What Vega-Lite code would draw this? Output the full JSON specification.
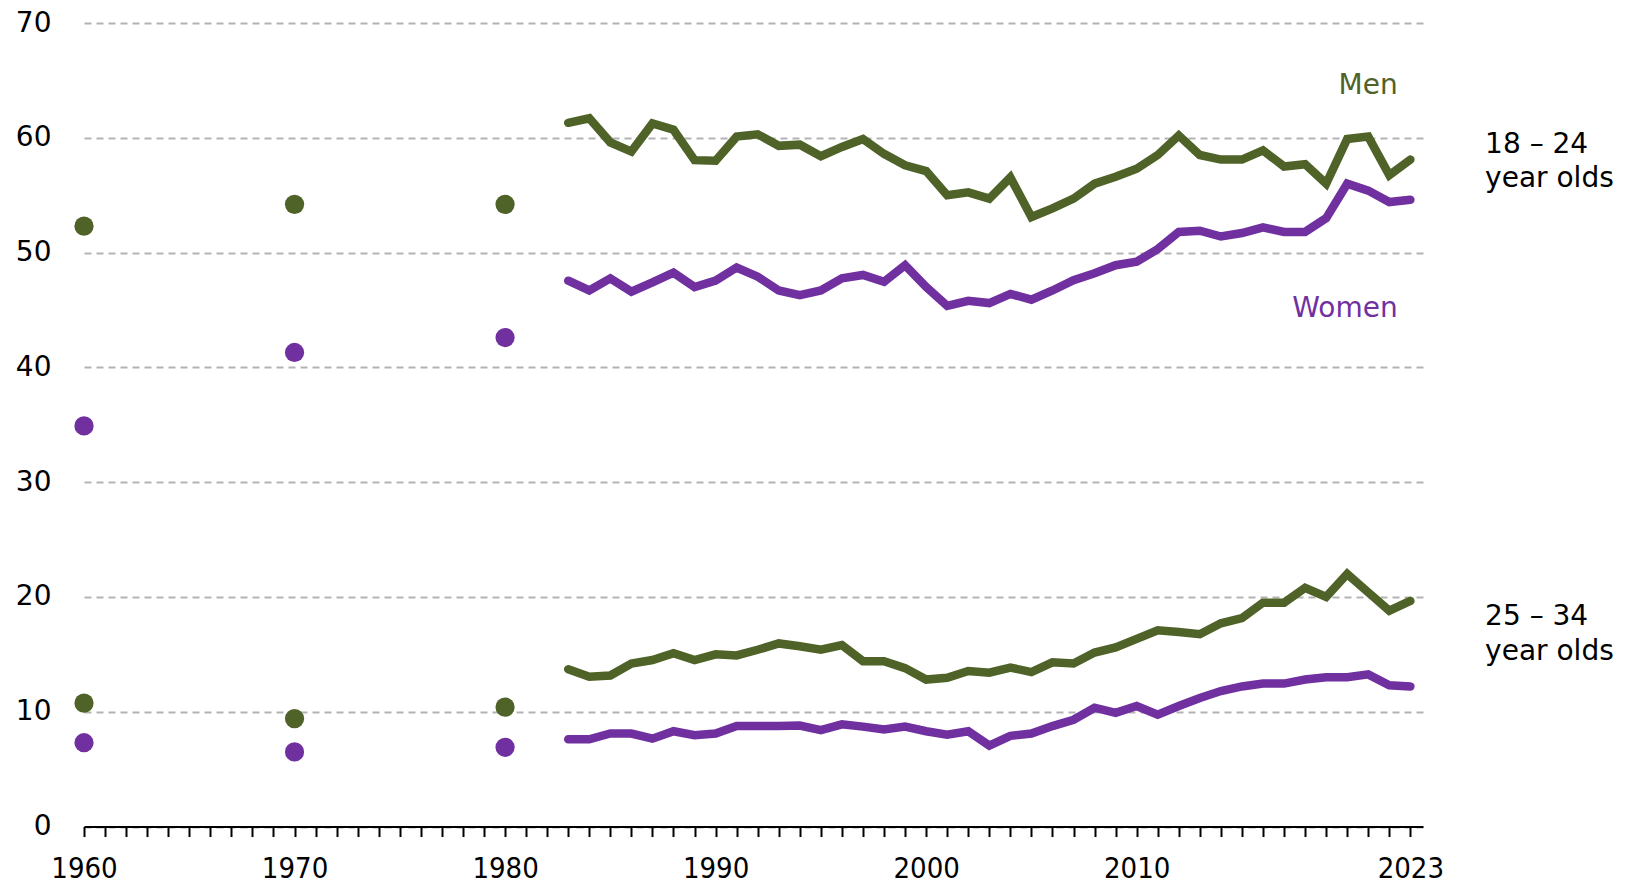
{
  "$schema": "https://vega.github.io/schema/vega-lite/v6.json",
  "width": 1339,
  "height": 803.5,
  "autosize": {"type": "none"},
  "padding": {"left": 84, "top": 23, "right": 203, "bottom": 59.5},
  "background": "white",
  "config": {"view": {"stroke": null}},
  "datasets": {
    "rates": [
      {"year": 1960, "Men 18-24": 52.3, "Women 18-24": 34.9, "Men 25-34": 10.75, "Women 25-34": 7.3},
      {"year": 1970, "Men 18-24": 54.2, "Women 18-24": 41.3, "Men 25-34": 9.4, "Women 25-34": 6.5},
      {"year": 1980, "Men 18-24": 54.2, "Women 18-24": 42.6, "Men 25-34": 10.4, "Women 25-34": 6.9},
      {"year": 1983, "Men 18-24": 61.3, "Women 18-24": 47.55, "Men 25-34": 13.7, "Women 25-34": 7.6},
      {"year": 1984, "Men 18-24": 61.7, "Women 18-24": 46.7, "Men 25-34": 13.05, "Women 25-34": 7.6},
      {"year": 1985, "Men 18-24": 59.6, "Women 18-24": 47.75, "Men 25-34": 13.15, "Women 25-34": 8.1},
      {"year": 1986, "Men 18-24": 58.8, "Women 18-24": 46.6, "Men 25-34": 14.2, "Women 25-34": 8.1},
      {"year": 1987, "Men 18-24": 61.25, "Women 18-24": 47.4, "Men 25-34": 14.5, "Women 25-34": 7.65},
      {"year": 1988, "Men 18-24": 60.7, "Women 18-24": 48.25, "Men 25-34": 15.1, "Women 25-34": 8.3},
      {"year": 1989, "Men 18-24": 58.05, "Women 18-24": 47.0, "Men 25-34": 14.5, "Women 25-34": 7.95},
      {"year": 1990, "Men 18-24": 58.0, "Women 18-24": 47.55, "Men 25-34": 15.0, "Women 25-34": 8.1},
      {"year": 1991, "Men 18-24": 60.1, "Women 18-24": 48.7, "Men 25-34": 14.9, "Women 25-34": 8.75},
      {"year": 1992, "Men 18-24": 60.3, "Women 18-24": 47.9, "Men 25-34": 15.4, "Women 25-34": 8.75},
      {"year": 1993, "Men 18-24": 59.3, "Women 18-24": 46.7, "Men 25-34": 15.95, "Women 25-34": 8.75},
      {"year": 1994, "Men 18-24": 59.4, "Women 18-24": 46.3, "Men 25-34": 15.7, "Women 25-34": 8.8},
      {"year": 1995, "Men 18-24": 58.4, "Women 18-24": 46.7, "Men 25-34": 15.4, "Women 25-34": 8.4},
      {"year": 1996, "Men 18-24": 59.2, "Women 18-24": 47.75, "Men 25-34": 15.8, "Women 25-34": 8.9},
      {"year": 1997, "Men 18-24": 59.9, "Women 18-24": 48.05, "Men 25-34": 14.4, "Women 25-34": 8.7},
      {"year": 1998, "Men 18-24": 58.6, "Women 18-24": 47.45, "Men 25-34": 14.4, "Women 25-34": 8.45},
      {"year": 1999, "Men 18-24": 57.6, "Women 18-24": 48.9, "Men 25-34": 13.8, "Women 25-34": 8.7},
      {"year": 2000, "Men 18-24": 57.1, "Women 18-24": 47.0, "Men 25-34": 12.8, "Women 25-34": 8.3},
      {"year": 2001, "Men 18-24": 55.0, "Women 18-24": 45.35, "Men 25-34": 12.95, "Women 25-34": 8.0},
      {"year": 2002, "Men 18-24": 55.25, "Women 18-24": 45.8, "Men 25-34": 13.55, "Women 25-34": 8.3},
      {"year": 2003, "Men 18-24": 54.7, "Women 18-24": 45.6, "Men 25-34": 13.4, "Women 25-34": 7.05},
      {"year": 2004, "Men 18-24": 56.55, "Women 18-24": 46.4, "Men 25-34": 13.85, "Women 25-34": 7.9},
      {"year": 2005, "Men 18-24": 53.1, "Women 18-24": 45.9, "Men 25-34": 13.45, "Women 25-34": 8.1},
      {"year": 2006, "Men 18-24": 53.85, "Women 18-24": 46.7, "Men 25-34": 14.3, "Women 25-34": 8.75},
      {"year": 2007, "Men 18-24": 54.7, "Women 18-24": 47.6, "Men 25-34": 14.2, "Women 25-34": 9.3},
      {"year": 2008, "Men 18-24": 56.0, "Women 18-24": 48.2, "Men 25-34": 15.15, "Women 25-34": 10.35},
      {"year": 2009, "Men 18-24": 56.6, "Women 18-24": 48.9, "Men 25-34": 15.6, "Women 25-34": 9.9},
      {"year": 2010, "Men 18-24": 57.3, "Women 18-24": 49.2, "Men 25-34": 16.35, "Women 25-34": 10.5},
      {"year": 2011, "Men 18-24": 58.5, "Women 18-24": 50.3, "Men 25-34": 17.1, "Women 25-34": 9.75},
      {"year": 2012, "Men 18-24": 60.2, "Women 18-24": 51.8, "Men 25-34": 16.95, "Women 25-34": 10.5},
      {"year": 2013, "Men 18-24": 58.5, "Women 18-24": 51.9, "Men 25-34": 16.75, "Women 25-34": 11.2},
      {"year": 2014, "Men 18-24": 58.1, "Women 18-24": 51.4, "Men 25-34": 17.7, "Women 25-34": 11.8},
      {"year": 2015, "Men 18-24": 58.1, "Women 18-24": 51.7, "Men 25-34": 18.15, "Women 25-34": 12.2},
      {"year": 2016, "Men 18-24": 58.9, "Women 18-24": 52.2, "Men 25-34": 19.5, "Women 25-34": 12.45},
      {"year": 2017, "Men 18-24": 57.5, "Women 18-24": 51.8, "Men 25-34": 19.5, "Women 25-34": 12.45},
      {"year": 2018, "Men 18-24": 57.7, "Women 18-24": 51.8, "Men 25-34": 20.8, "Women 25-34": 12.8},
      {"year": 2019, "Men 18-24": 56.0, "Women 18-24": 53.0, "Men 25-34": 20.0, "Women 25-34": 13.0},
      {"year": 2020, "Men 18-24": 59.9, "Women 18-24": 56.0, "Men 25-34": 22.0, "Women 25-34": 13.0},
      {"year": 2021, "Men 18-24": 60.1, "Women 18-24": 55.4, "Men 25-34": 20.4, "Women 25-34": 13.25},
      {"year": 2022, "Men 18-24": 56.75, "Women 18-24": 54.4, "Men 25-34": 18.8, "Women 25-34": 12.3},
      {"year": 2023, "Men 18-24": 58.1, "Women 18-24": 54.6, "Men 25-34": 19.65, "Women 25-34": 12.2}
    ],
    "sexLabels": [
      {"year": 2022.4, "value": 64.5, "label": "Men"},
      {"year": 2022.4, "value": 45.1, "label": "Women"}
    ],
    "ageLabels": [
      {"year": 2026.55, "value": 59.4, "label": "18 – 24"},
      {"year": 2026.55, "value": 56.4, "label": "year olds"},
      {"year": 2026.55, "value": 18.25, "label": "25 – 34"},
      {"year": 2026.55, "value": 15.2, "label": "year olds"}
    ]
  },
  "layer": [
    {
      "data": {"name": "rates"},
      "transform": [
        {"fold": ["Men 18-24", "Women 18-24", "Men 25-34", "Women 25-34"], "as": ["series", "value"]},
        {"filter": "datum.year >= 1983"}
      ],
      "mark": {"type": "line", "strokeWidth": 8.5, "strokeCap": "round", "strokeJoin": "miter"},
      "encoding": {
        "x": {
          "field": "year", "type": "quantitative",
          "scale": {"domain": [1960, 2023.6], "nice": false, "zero": false},
          "axis": {
            "title": null,
            "grid": false,
            "tickCount": 200,
            "values": [1960,1961,1962,1963,1964,1965,1966,1967,1968,1969,1970,1971,1972,1973,1974,1975,1976,1977,1978,1979,1980,1981,1982,1983,1984,1985,1986,1987,1988,1989,1990,1991,1992,1993,1994,1995,1996,1997,1998,1999,2000,2001,2002,2003,2004,2005,2006,2007,2008,2009,2010,2011,2012,2013,2014,2015,2016,2017,2018,2019,2020,2021,2022,2023],
            "format": "d",
            "labelExpr": "indexof([1960,1970,1980,1990,2000,2010,2023], datum.value) >= 0 ? datum.label : ''",
            "labelFont": "Liberation Sans Narrow, DejaVu Sans Condensed, sans-serif",
            "labelFontSize": 29,
            "labelColor": "#000000",
            "labelPadding": 18,
            "labelOverlap": false,
            "labelFlush": false,
            "domainColor": "#000000",
            "domainWidth": 2,
            "tickColor": "#000000",
            "tickWidth": 2,
            "tickSize": 10
          }
        },
        "y": {
          "field": "value", "type": "quantitative",
          "scale": {"domain": [0, 70], "nice": false},
          "axis": {
            "title": null,
            "values": [0, 10, 20, 30, 40, 50, 60, 70],
            "domain": false,
            "ticks": false,
            "grid": true,
            "gridColor": "#b3b3b3",
            "gridWidth": 2,
            "gridDash": [7, 5],
            "labelFont": "DejaVu Sans",
            "labelFontSize": 28,
            "labelColor": "#000000",
            "labelPadding": 33
          }
        },
        "color": {
          "field": "series", "type": "nominal",
          "scale": {"domain": ["Men 18-24", "Women 18-24", "Men 25-34", "Women 25-34"], "range": ["#4f6228", "#7030a0", "#4f6228", "#7030a0"]},
          "legend": null
        }
      }
    },
    {
      "data": {"name": "rates"},
      "transform": [
        {"fold": ["Men 18-24", "Women 18-24", "Men 25-34", "Women 25-34"], "as": ["series", "value"]},
        {"filter": "datum.year <= 1980"}
      ],
      "mark": {"type": "point", "filled": true, "opacity": 1, "size": 370},
      "encoding": {
        "x": {"field": "year", "type": "quantitative"},
        "y": {"field": "value", "type": "quantitative"},
        "color": {"field": "series", "type": "nominal", "legend": null}
      }
    },
    {
      "data": {"name": "sexLabels"},
      "transform": [{"filter": "datum.label == 'Men'"}],
      "mark": {"type": "text", "align": "right", "baseline": "middle", "font": "DejaVu Sans", "fontSize": 28, "color": "#4f6228"},
      "encoding": {
        "x": {"field": "year", "type": "quantitative"},
        "y": {"field": "value", "type": "quantitative"},
        "text": {"field": "label"}
      }
    },
    {
      "data": {"name": "sexLabels"},
      "transform": [{"filter": "datum.label == 'Women'"}],
      "mark": {"type": "text", "align": "right", "baseline": "middle", "font": "DejaVu Sans", "fontSize": 28, "color": "#7030a0"},
      "encoding": {
        "x": {"field": "year", "type": "quantitative"},
        "y": {"field": "value", "type": "quantitative"},
        "text": {"field": "label"}
      }
    },
    {
      "data": {"name": "ageLabels"},
      "mark": {"type": "text", "align": "left", "baseline": "middle", "font": "DejaVu Sans", "fontSize": 28, "color": "#000000"},
      "encoding": {
        "x": {"field": "year", "type": "quantitative"},
        "y": {"field": "value", "type": "quantitative"},
        "text": {"field": "label"}
      }
    }
  ]
}
